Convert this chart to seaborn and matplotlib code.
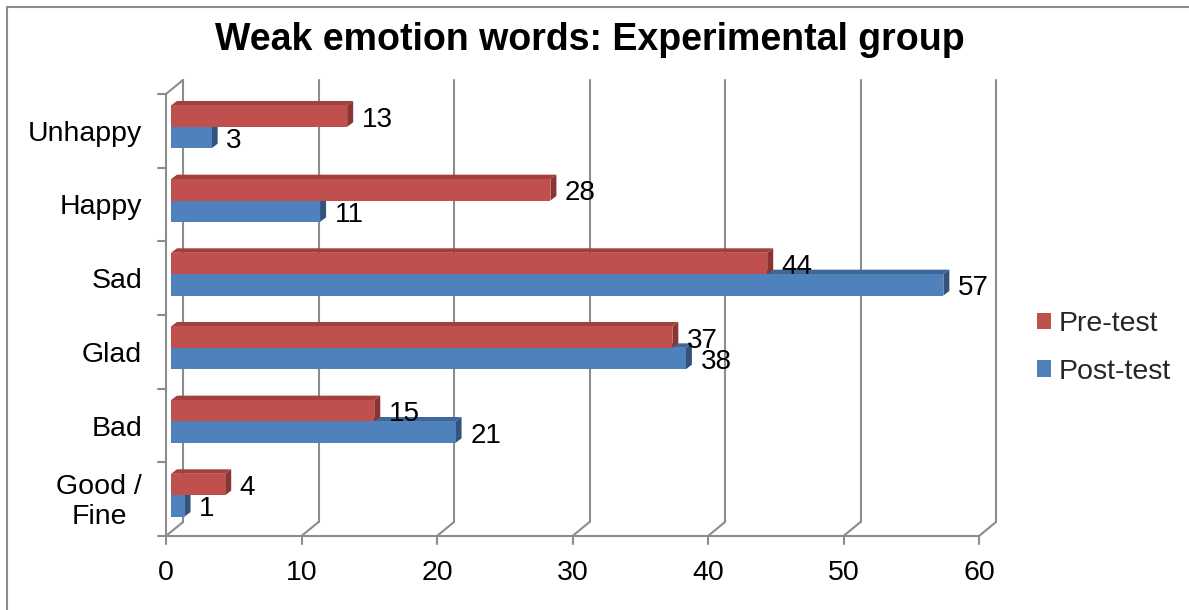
import matplotlib
matplotlib.use("Agg")
import matplotlib.pyplot as plt
from matplotlib.patches import Polygon, Patch
from matplotlib.lines import Line2D
from matplotlib.transforms import ScaledTranslation, IdentityTransform
import numpy as np
import pandas as pd
import seaborn as sns

# ---- data -------------------------------------------------------------
categories = ["Unhappy", "Happy", "Sad", "Glad", "Bad", "Good /\nFine"]
pre_test = [13, 28, 44, 37, 15, 4]
post_test = [3, 11, 57, 38, 21, 1]
series_names = ["Pre-test", "Post-test"]
x_ticks = [0, 10, 20, 30, 40, 50, 60]
title = "Weak emotion words: Experimental group"

# ---- style ------------------------------------------------------------
sns.set_theme(style="white")
plt.rcParams["font.family"] = ["Liberation Sans", "DejaVu Sans"]

front_cols = ["#C0504D", "#4F81BD"]
top_cols = ["#A3403D", "#3F6898"]
side_cols = ["#8B3432", "#31537C"]
grid_col = "#8C8C8C"

W, H, DPI = 1189, 610, 100
fig = plt.figure(figsize=(W / DPI, H / DPI), dpi=DPI)
ax = fig.add_axes([171 / W, (H - 532) / H, 813 / W, 442 / H])

df = pd.DataFrame({
    "word": categories * 2,
    "count": pre_test + post_test,
    "test": [series_names[0]] * len(categories) + [series_names[1]] * len(categories),
})

sns.barplot(data=df, y="word", x="count", hue="test", orient="h",
            order=categories, hue_order=series_names,
            palette=front_cols, saturation=1, width=0.58,
            legend=False, ax=ax, zorder=3, linewidth=0)

ax.set_xlim(0, 60)
ax.set_ylim(5.5, -0.5)
ax.set_autoscale_on(False)
ax.set_axis_off()

# pixel offsets for the front and back planes of the 3-D frame
px = fig.dpi_scale_trans
front = ax.transData + ScaledTranslation(-5 / DPI, -4 / DPI, px)
back = ax.transData + ScaledTranslation(12 / DPI, 10 / DPI, px)

def seg(p1, p2, **kw):
    ln = Line2D([p1[0], p2[0]], [p1[1], p2[1]], transform=IdentityTransform(),
                color=grid_col, lw=1.5, clip_on=False, zorder=1, **kw)
    ax.add_artist(ln)

y_lo, y_hi = 5.5, -0.5
for v in x_ticks:
    # back wall gridline
    seg(back.transform((v, y_lo)), back.transform((v, y_hi)))
    # floor diagonal
    seg(front.transform((v, y_lo)), back.transform((v, y_lo)))
    # tick mark on the front axis
    p = front.transform((v, y_lo))
    seg(p, (p[0], p[1] - 8))
    ax.text(v, y_lo, str(v), transform=front + ScaledTranslation(0, -37 / DPI, px),
            ha="center", va="center", fontsize=20.5, color="black")

# front axes
seg(front.transform((0, y_lo)), front.transform((60, y_lo)))
seg(front.transform((0, y_lo)), front.transform((0, y_hi)))
seg(front.transform((0, y_hi)), back.transform((0, y_hi)))
for k in range(len(categories) + 1):
    p = front.transform((0, k - 0.5))
    seg(p, (p[0] - 8, p[1]))

for i, name in enumerate(categories):
    ax.text(0, i, name, transform=front + ScaledTranslation(-24 / DPI, -3 / DPI, px),
            ha="right", va="center", multialignment="center",
            fontsize=20.5, linespacing=1.2, color="black")

# 3-D faces and value labels for every bar
dx, dy = 6, 4.5
for s, (cont, vals) in enumerate(zip(ax.containers, [pre_test, post_test])):
    for rect, val in zip(cont.patches, vals):
        x0, y0 = rect.get_x(), rect.get_y()
        x1, y1 = x0 + rect.get_width(), y0 + rect.get_height()
        (ax0, ay0), (ax1, ay1) = ax.transData.transform([(x0, y0), (x1, y1)])
        xl, xr = min(ax0, ax1), max(ax0, ax1)
        yb, yt = min(ay0, ay1), max(ay0, ay1)
        top = Polygon([(xl, yt), (xr, yt), (xr + dx, yt + dy), (xl + dx, yt + dy)],
                      closed=True, transform=IdentityTransform(),
                      facecolor=top_cols[s], edgecolor="none", zorder=1.8, clip_on=False)
        side = Polygon([(xr, yb), (xr + dx, yb + dy), (xr + dx, yt + dy), (xr, yt)],
                       closed=True, transform=IdentityTransform(),
                       facecolor=side_cols[s], edgecolor="none", zorder=2.5, clip_on=False)
        ax.add_artist(top)
        ax.add_artist(side)
        ax.annotate(str(val), (x1, (y0 + y1) / 2), xytext=(10.5, -2.5),
                    textcoords="offset points", ha="left", va="center",
                    fontsize=20, color="black", zorder=5)

# legend
handles = [Patch(facecolor=c, edgecolor="none") for c in front_cols]
fig.legend(handles, series_names, loc="center left",
           bbox_to_anchor=(1037 / W, 1 - 348 / H), frameon=False, fontsize=20.5,
           handlelength=0.5, handleheight=0.5, handletextpad=0.25,
           labelspacing=0.75, borderpad=0, borderaxespad=0)

fig.text(590 / W, 1 - 40 / H, title, ha="center", va="center",
         fontsize=27, fontweight="bold", color="black")

# outer chart border (top and left edges)
fig.add_artist(Line2D([7 / W, 1], [1 - 7 / H, 1 - 7 / H], transform=fig.transFigure,
                      color="#8C8C8C", lw=1.5))
fig.add_artist(Line2D([7 / W, 7 / W], [0, 1 - 7 / H], transform=fig.transFigure,
                      color="#8C8C8C", lw=1.5))

fig.savefig("out.png", dpi=DPI)
